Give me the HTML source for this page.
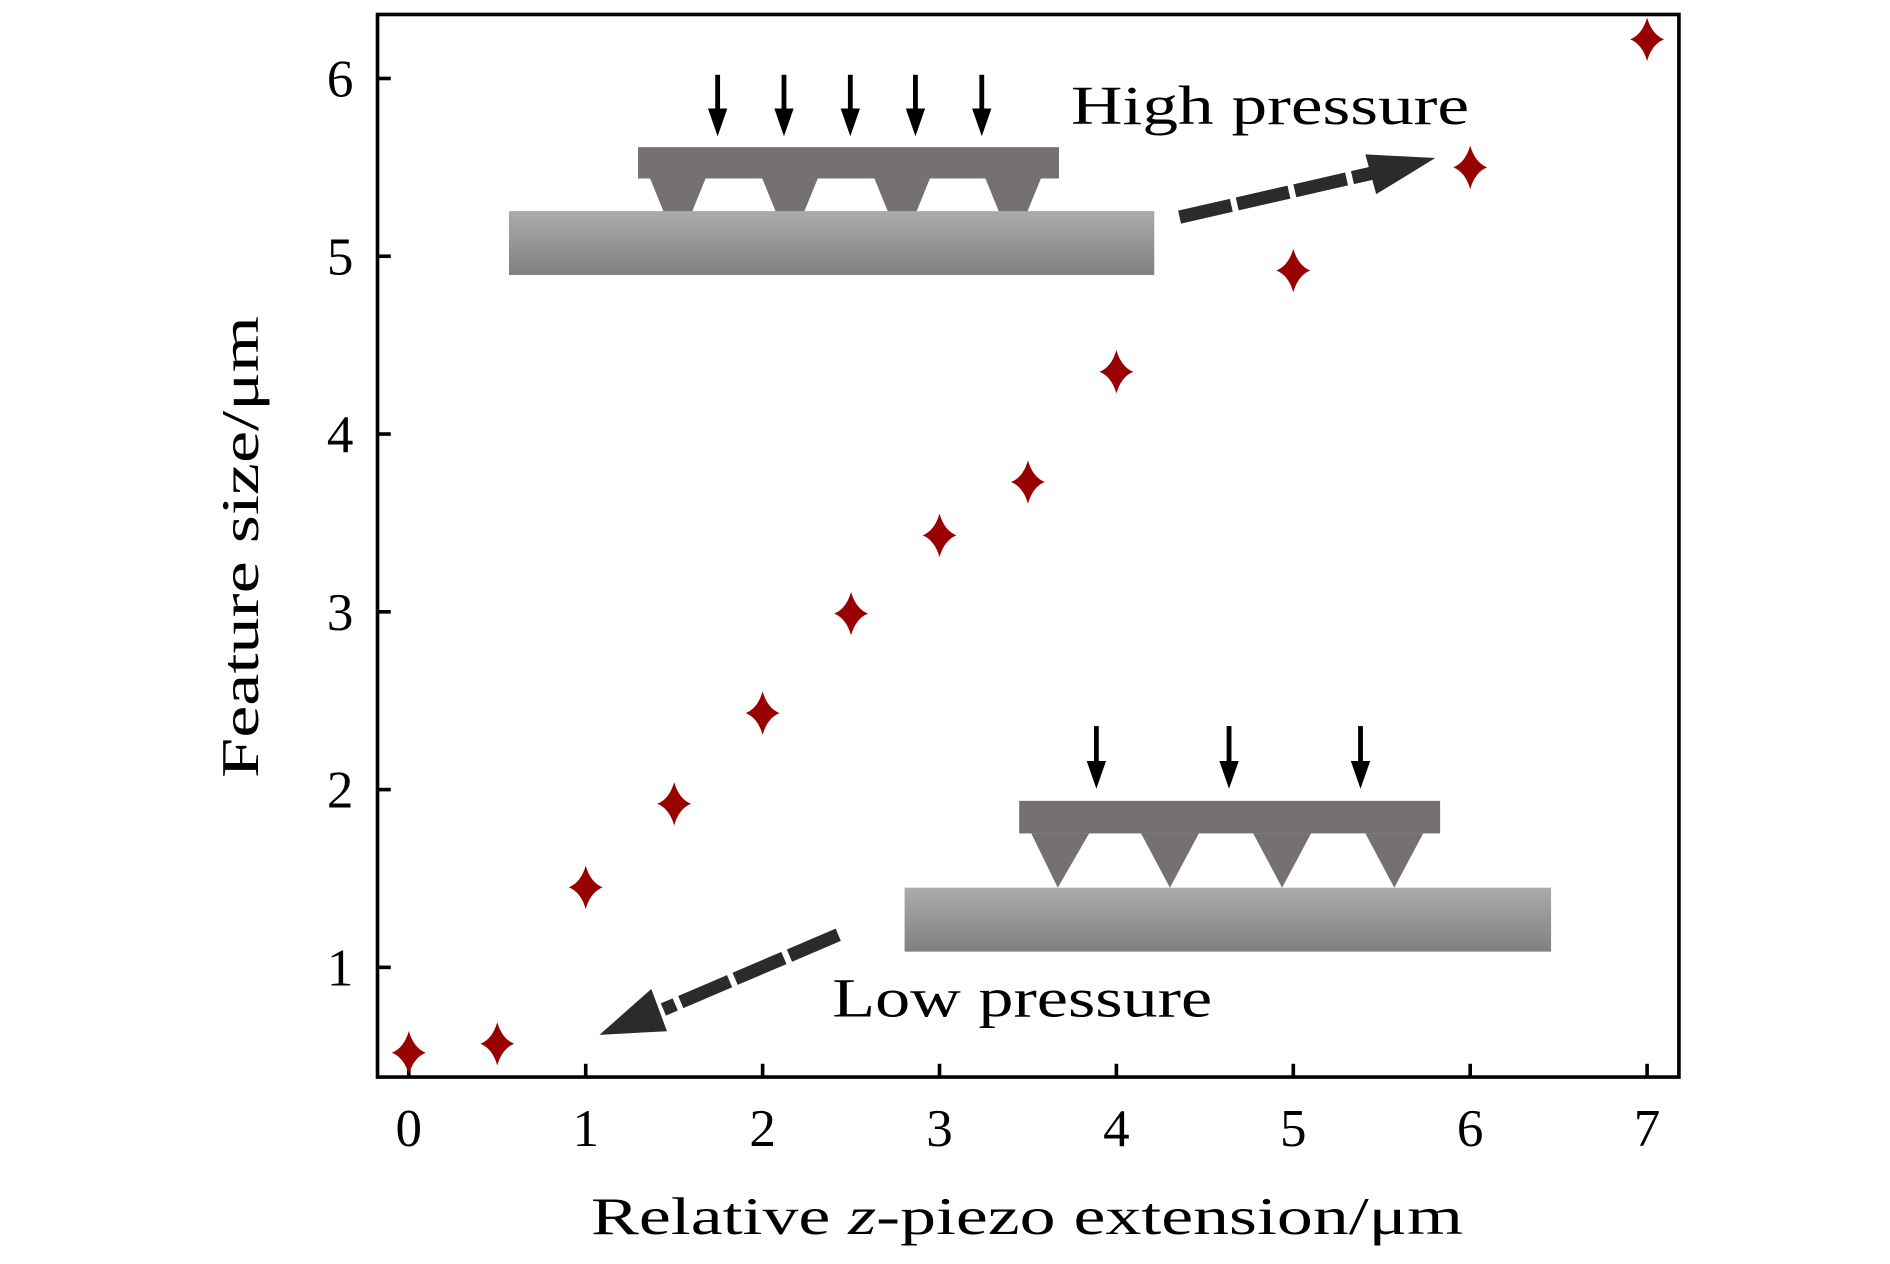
<!DOCTYPE html>
<html><head><meta charset="utf-8"><style>
html,body{margin:0;padding:0;background:#fff;}
svg{display:block;font-family:"Liberation Serif",serif;}
</style></head><body>
<svg id="chart" width="1890" height="1264" viewBox="0 0 1567 1048" preserveAspectRatio="none" xmlns="http://www.w3.org/2000/svg">
<defs>
<linearGradient id="sub" x1="0" y1="0" x2="0" y2="1"><stop offset="0" stop-color="#ababab"/><stop offset="1" stop-color="#808080"/></linearGradient>
</defs>
<g id="diagrams">
<g>
<rect x="422" y="175" width="535" height="53" fill="url(#sub)"/>
<rect x="529" y="122" width="349" height="26" fill="#757171"/>
<g fill="#757171">
<polygon points="539,148 585,148 574,175 550,175"/>
<polygon points="632,148 678,148 667,175 643,175"/>
<polygon points="725,148 771,148 760,175 736,175"/>
<polygon points="817,148 863,148 852,175 828,175"/>
</g>
<g stroke="#000" stroke-width="4" fill="#000">
<line x1="595" y1="62" x2="595" y2="95"/><polygon points="587,90 603,90 595,113" stroke="none"/>
<line x1="650" y1="62" x2="650" y2="95"/><polygon points="642,90 658,90 650,113" stroke="none"/>
<line x1="705" y1="62" x2="705" y2="95"/><polygon points="697,90 713,90 705,113" stroke="none"/>
<line x1="759" y1="62" x2="759" y2="95"/><polygon points="751,90 767,90 759,113" stroke="none"/>
<line x1="814" y1="62" x2="814" y2="95"/><polygon points="806,90 822,90 814,113" stroke="none"/>
</g>
<text x="888" y="103" font-size="46" textLength="330" lengthAdjust="spacingAndGlyphs">High pressure</text>
<line x1="978" y1="180" x2="1140" y2="143" stroke="#2b2b2b" stroke-width="11" stroke-dasharray="44,5"/>
<polygon points="1190,131 1132,128 1141,161" fill="#2b2b2b"/>
</g>
<g>
<rect x="750" y="736" width="536" height="53" fill="url(#sub)"/>
<rect x="845" y="664" width="349" height="27" fill="#757171"/>
<g fill="#757171">
<polygon points="855,691 903,691 877,736"/>
<polygon points="946,691 994,691 970,736"/>
<polygon points="1039,691 1087,691 1063,736"/>
<polygon points="1132,691 1180,691 1156,736"/>
</g>
<g stroke="#000" stroke-width="4" fill="#000">
<line x1="909" y1="602" x2="909" y2="636"/><polygon points="901,631 917,631 909,654" stroke="none"/>
<line x1="1019" y1="602" x2="1019" y2="636"/><polygon points="1011,631 1027,631 1019,654" stroke="none"/>
<line x1="1128" y1="602" x2="1128" y2="636"/><polygon points="1120,631 1136,631 1128,654" stroke="none"/>
</g>
<text x="690" y="843" font-size="46" textLength="315" lengthAdjust="spacingAndGlyphs">Low pressure</text>
<line x1="695" y1="775" x2="550" y2="837" stroke="#2b2b2b" stroke-width="11" stroke-dasharray="44,5"/>
<polygon points="497,858 540,820 553,855" fill="#2b2b2b"/>
</g>
</g>
<g id="axes"></g>
<g id="marks"></g>
<text x="490" y="1023" font-size="44" textLength="723" lengthAdjust="spacingAndGlyphs">Relative <tspan font-style="italic">z</tspan>-piezo extension/μm</text>
<text transform="translate(214,645) rotate(-90)" font-size="44" textLength="383" lengthAdjust="spacingAndGlyphs">Feature size/μm</text>
</svg>
<script>
const xValues = [0, 0.5, 1, 1.5, 2, 2.5, 3, 3.5, 4, 5, 6, 7];
const yValues = [0.52, 0.57, 1.45, 1.92, 2.43, 2.99, 3.43, 3.73, 4.35, 4.92, 5.50, 6.22];
const xTicks = [0, 1, 2, 3, 4, 5, 6, 7];
const yTicks = [1, 2, 3, 4, 5, 6];

const NS = "http://www.w3.org/2000/svg";
const L = 313, R = 1392, T = 12, B = 893;
const xMin = -0.177, xMax = 7.18, yMin = 0.383, yMax = 6.36;
function sx(v){ return L + (v - xMin) / (xMax - xMin) * (R - L); }
function sy(v){ return B - (v - yMin) / (yMax - yMin) * (B - T); }
function mk(tag, attrs, parent){ const e = document.createElementNS(NS, tag); for (const k in attrs) e.setAttribute(k, attrs[k]); parent.appendChild(e); return e; }

const axes = document.getElementById('axes');
const frame = mk('rect', {x: L, y: T, width: R - L, height: B - T, fill: 'none', stroke: '#000', 'stroke-width': 3}, axes);


xTicks.forEach(v => {
  const t = mk('line', {x1: sx(v), x2: sx(v), y1: B, y2: B - 11, stroke: '#000', 'stroke-width': 3}, axes);
  
  
  const lb = mk('text', {x: sx(v), y: B + 57, 'font-size': 44, 'text-anchor': 'middle'}, axes);
  lb.textContent = v;
  
  
});
yTicks.forEach(v => {
  const t = mk('line', {x1: L, x2: L + 11, y1: sy(v), y2: sy(v), stroke: '#000', 'stroke-width': 3}, axes);
  
  
  const lb = mk('text', {x: L - 20, y: sy(v) + 15, 'font-size': 44, 'text-anchor': 'end'}, axes);
  lb.textContent = v;
  
  
});
const marks = document.getElementById('marks');
xValues.forEach((xv, i) => {
  const cx = sx(xv), cy = sy(yValues[i]);
  const p = mk('path', {d: `M${cx},${cy-18} Q${cx+4},${cy-4} ${cx+14},${cy} Q${cx+4},${cy+4} ${cx},${cy+18} Q${cx-4},${cy+4} ${cx-14},${cy} Q${cx-4},${cy-4} ${cx},${cy-18}Z`, fill: '#990000'}, marks);
  
  
});
</script>
</body></html>
